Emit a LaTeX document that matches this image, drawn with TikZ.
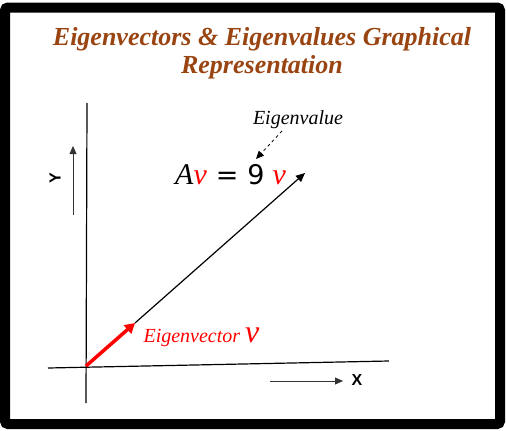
\documentclass[tikz,border=0pt]{standalone}
\usepackage{fontspec}
\setmainfont{Liberation Serif}
\newfontfamily\axfont{Liberation Sans}
\newfontfamily\eqfont{DejaVu Sans}
\usetikzlibrary{arrows.meta}
\definecolor{titlebrown}{RGB}{153,68,17}
\tikzset{
  frame/.style={draw=black,line width=10pt,rounded corners=3pt},
  axis/.style={draw=black,line width=1.2pt},
  smallarrow/.style={draw=black!80,line width=0.8pt,-{Triangle[length=8pt,width=7pt]}},
  axlabel/.style={font=\axfont\bfseries\fontsize{16}{18}\selectfont},
  titletext/.style={text=titlebrown,font=\bfseries\itshape\fontsize{26}{28}\selectfont,align=center},
}
\begin{document}
\begin{tikzpicture}[x=1pt,y=-1pt]
\useasboundingbox (0,0) rectangle (506,431);
\fill[white] (0,0) rectangle (506,431);
\draw[frame] (5,7.5) rectangle (500,424);
\node[titletext] (title) at (262,53) {Eigenvectors \& Eigenvalues Graphical\\Representation};
% axes
\coordinate (ytop) at (87,103);
\coordinate (ybot) at (86,403);
\coordinate (xl) at (48,368);
\coordinate (xr) at (389,361);
\coordinate (o) at (86,366);
\draw[axis] (ytop) -- (ybot);
\draw[axis] (xl) -- (xr);
% small axis arrows
\coordinate (xa1) at (270,381);
\coordinate (xa2) at (343,381);
\draw[smallarrow] (xa1) -- (xa2);
\node[axlabel] (xlab) at (357,380) {X};
\coordinate (ya1) at (73,215);
\coordinate (ya2) at (73,146);
\draw[smallarrow] (ya1) -- (ya2);
\node[axlabel,rotate=90] (ylab) at (55,178) {Y};
% vectors
\coordinate (evtip) at (135,323);
\coordinate (avtip) at (305,173);
\draw[black,line width=1.2pt,-{Triangle[length=9pt,width=8pt]}] (evtip) -- (avtip);
\draw[red,line width=3.5pt,-{Triangle[length=10pt,width=11pt]}] (o) -- (evtip);
% labels
\node[text=red,font=\itshape\fontsize{20}{24}\selectfont,anchor=west] (evlab) at (140,337) {Eigenvector {\fontsize{32}{34}\selectfont ν}};
\node[font=\fontsize{30}{34}\selectfont,anchor=base west,inner sep=0pt] (eq) at (175,184) {\itshape A{\color{red}ν}\upshape\hspace{9pt}{\eqfont\fontsize{27}{30}\selectfont =\hspace{9pt}9}\hspace{8pt}{\color{red}\itshape ν}};
\node[font=\itshape\fontsize{20}{24}\selectfont] (evalue) at (298,120) {Eigenvalue};
\coordinate (da1) at (282,131);
\coordinate (da2) at (256,159);
\draw[black,line width=0.8pt,dashed,-{Triangle[length=8pt,width=7pt]}] (da1) -- (da2);
\end{tikzpicture}
\end{document}
